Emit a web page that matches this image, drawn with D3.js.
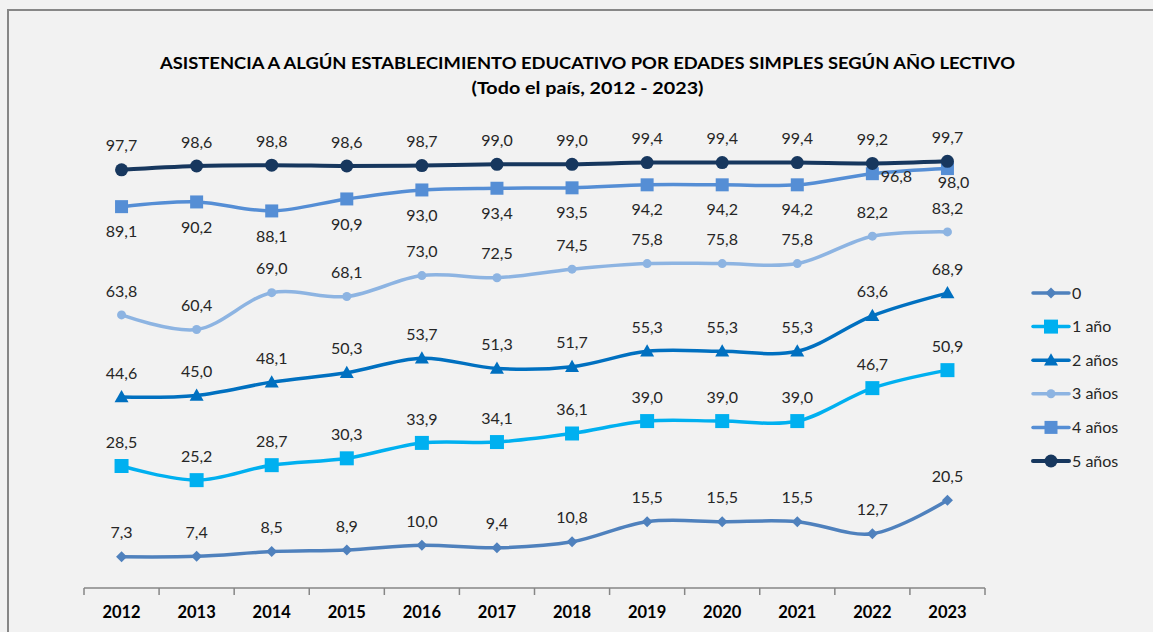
<!DOCTYPE html>
<html>
<head>
<meta charset="utf-8">
<script src="https://cdn.jsdelivr.net/npm/d3@7"></script>
<style>
  html, body { margin: 0; padding: 0; background: #F2F2F2; }
  svg { display: block; }
</style>
</head>
<body>
<svg id="chart" width="1153" height="632"></svg>
<script>
// ---- Data ----
const years = ["2012","2013","2014","2015","2016","2017","2018","2019","2020","2021","2022","2023"];
const seriesNames = ["0", "1 año", "2 años", "3 años", "4 años", "5 años"];
const edad0  = [7.3, 7.4, 8.5, 8.9, 10.0, 9.4, 10.8, 15.5, 15.5, 15.5, 12.7, 20.5];
const edad1  = [28.5, 25.2, 28.7, 30.3, 33.9, 34.1, 36.1, 39.0, 39.0, 39.0, 46.7, 50.9];
const edad2  = [44.6, 45.0, 48.1, 50.3, 53.7, 51.3, 51.7, 55.3, 55.3, 55.3, 63.6, 68.9];
const edad3  = [63.8, 60.4, 69.0, 68.1, 73.0, 72.5, 74.5, 75.8, 75.8, 75.8, 82.2, 83.2];
const edad4  = [89.1, 90.2, 88.1, 90.9, 93.0, 93.4, 93.5, 94.2, 94.2, 94.2, 96.8, 98.0];
const edad5  = [97.7, 98.6, 98.8, 98.6, 98.7, 99.0, 99.0, 99.4, 99.4, 99.4, 99.2, 99.7];
const titleLines = ["ASISTENCIA A ALGÚN ESTABLECIMIENTO EDUCATIVO POR EDADES SIMPLES SEGÚN AÑO LECTIVO",
                    "(Todo el país, 2012 - 2023)"];

const seriesValues = [edad0, edad1, edad2, edad3, edad4, edad5];

// ---- Styles ----
const styles = [
  { color: "#4F81BD", marker: "diamond",  size: 11, width: 3.5 },
  { color: "#00B0F0", marker: "square",   size: 14, width: 3.5 },
  { color: "#0070C0", marker: "triangle", size: 14, width: 3.5 },
  { color: "#8DB4E2", marker: "circle",   size: 9,  width: 3.5 },
  { color: "#558ED5", marker: "square",   size: 13, width: 3.5 },
  { color: "#17375E", marker: "circle",   size: 13, width: 4 }
];

const FONT = "Lato, 'Open Sans', sans-serif";
const svg = d3.select("#chart");

// frame
svg.append("rect")
  .attr("x", 8).attr("y", 10)
  .attr("width", 1160).attr("height", 640)
  .attr("fill", "#F2F2F2")
  .attr("stroke", "#878787").attr("stroke-width", 2);

// title
const titleSpec = [{ y: 68.5, w: 855 }, { y: 93.5, w: 232 }];
titleLines.forEach((t, i) => {
  svg.append("text")
    .attr("x", 587.5).attr("y", titleSpec[i].y)
    .attr("text-anchor", "middle")
    .attr("font-family", FONT).attr("font-weight", "bold")
    .attr("font-size", 17.5).attr("fill", "#000")
    .attr("textLength", titleSpec[i].w)
    .attr("lengthAdjust", "spacingAndGlyphs")
    .text(t);
});

// scales
const x = d3.scaleBand().domain(years).range([84, 985]).padding(0);
const y = d3.scaleLinear().domain([0, 100]).range([588, 160]);
const cx = d => x(d) + x.bandwidth() / 2;

// axis
const axisG = svg.append("g").attr("transform", `translate(0,${y(0)})`);
axisG.append("line")
  .attr("x1", x.range()[0]).attr("x2", x.range()[1])
  .attr("y1", 0).attr("y2", 0)
  .attr("stroke", "#868686").attr("stroke-width", 1.5);
const boundaries = years.map(d => x(d)).concat([x.range()[1]]);
axisG.selectAll("line.tick")
  .data(boundaries).enter().append("line")
  .attr("class", "tick")
  .attr("x1", d => d).attr("x2", d => d)
  .attr("y1", 0).attr("y2", 7)
  .attr("stroke", "#868686").attr("stroke-width", 1.5);
axisG.selectAll("text.yr")
  .data(years).enter().append("text")
  .attr("class", "yr")
  .attr("x", d => cx(d)).attr("y", 30)
  .attr("text-anchor", "middle")
  .attr("font-family", FONT).attr("font-weight", "bold")
  .attr("font-size", 16.5).attr("fill", "#000")
  .text(d => d);

// markers
function markerPath(type, s) {
  const h = s / 2;
  if (type === "diamond") return `M0,${-h}L${h},0L0,${h}L${-h},0Z`;
  if (type === "square") return `M${-h},${-h}H${h}V${h}H${-h}Z`;
  if (type === "triangle") return `M0,${-h}L${h},${h * 0.75}L${-h},${h * 0.75}Z`;
  return d3.arc()({ innerRadius: 0, outerRadius: h, startAngle: 0, endAngle: 2 * Math.PI });
}

const line = d3.line()
  .x((d, i) => cx(years[i]))
  .y(d => y(d))
  .curve(d3.curveCatmullRom.alpha(0.5));

const fmt = v => d3.format(".1f")(v).replace(".", ",");

// label placement (style, not data)
function labelPos(si, i, px, py) {
  if (si === 4) {
    if (i === 10) return [px + 24, py + 3, "middle"];
    if (i === 11) return [px + 6, py + 14, "middle"];
    return [px, py + 25, "middle"];
  }
  return [px, py - 24, "middle"];
}

seriesValues.forEach((vals, si) => {
  const st = styles[si];
  const g = svg.append("g");
  g.append("path")
    .attr("d", line(vals))
    .attr("fill", "none")
    .attr("stroke", st.color)
    .attr("stroke-width", st.width)
    .attr("stroke-linejoin", "round")
    .attr("stroke-linecap", "round");
  g.selectAll("path.mk")
    .data(vals).enter().append("path")
    .attr("class", "mk")
    .attr("d", markerPath(st.marker, st.size))
    .attr("transform", (d, i) => `translate(${cx(years[i])},${y(d)})`)
    .attr("fill", st.color);
});

// labels drawn on top
seriesValues.forEach((vals, si) => {
  svg.append("g").selectAll("text")
    .data(vals).enter().append("text")
    .each(function (d, i) {
      const [lx, ly, anchor] = labelPos(si, i, cx(years[i]), y(d));
      d3.select(this)
        .attr("x", lx).attr("y", ly)
        .attr("dy", "0.35em")
        .attr("text-anchor", anchor);
    })
    .attr("font-family", FONT)
    .attr("font-size", 16)
    .attr("fill", "#262626")
    .text(d => fmt(d));
});

// legend
const legend = svg.append("g");
seriesNames.forEach((name, si) => {
  const st = styles[si];
  const ly = 293 + si * 33.6;
  const lg = legend.append("g").attr("transform", `translate(0,${ly})`);
  lg.append("line")
    .attr("x1", 1033).attr("x2", 1069)
    .attr("y1", 0).attr("y2", 0)
    .attr("stroke", st.color).attr("stroke-width", st.width)
    .attr("stroke-linecap", "round");
  lg.append("path")
    .attr("d", markerPath(st.marker, st.size))
    .attr("transform", "translate(1051,0)")
    .attr("fill", st.color);
  lg.append("text")
    .attr("x", 1072).attr("y", 0).attr("dy", "0.35em")
    .attr("font-family", FONT).attr("font-size", 16)
    .attr("fill", "#262626")
    .text(name);
});
</script>
</body>
</html>
